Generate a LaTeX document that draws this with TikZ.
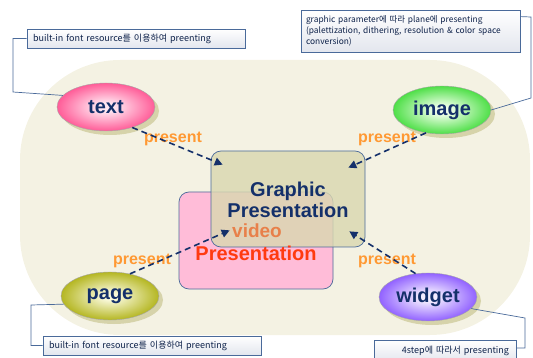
\documentclass[tikz,border=0pt]{standalone}
\usepackage{fontspec}
\setmainfont{Liberation Sans}
\newfontfamily\kr{Noto Sans CJK KR}
\usetikzlibrary{arrows.meta,calc,shapes.geometric}
\definecolor{bgc}{HTML}{F4F2E3}
\definecolor{shc}{HTML}{D6D3AA}
\definecolor{navy}{HTML}{14306A}
\definecolor{orng}{HTML}{FF9933}
\definecolor{vidc}{HTML}{E8804A}
\definecolor{redc}{HTML}{FF3A10}
\definecolor{leadc}{HTML}{4A6A9A}
\definecolor{gpfill}{HTML}{DAD8B0}
\definecolor{pkfill}{HTML}{FFBCD8}
\definecolor{pkout}{HTML}{FF4F8F}
\definecolor{pkin}{HTML}{FFE8F2}
\definecolor{grout}{HTML}{3FDC38}
\definecolor{grin}{HTML}{F0FFEA}
\definecolor{ylout}{HTML}{AEB010}
\definecolor{ylin}{HTML}{F8F8D8}
\definecolor{puout}{HTML}{8855FF}
\definecolor{puin}{HTML}{F4EEFF}
\definecolor{boxb}{HTML}{E3E6EE}
\pgfdeclareradialshading{glowpink}{\pgfpoint{0bp}{0bp}}{color(0bp)=(pkin); color(4bp)=(pkin); color(27bp)=(pkout); color(50bp)=(pkout)}
\pgfdeclareradialshading{glowgreen}{\pgfpoint{0bp}{0bp}}{color(0bp)=(grin); color(4bp)=(grin); color(27bp)=(grout); color(50bp)=(grout)}
\pgfdeclareradialshading{glowyellow}{\pgfpoint{0bp}{0bp}}{color(0bp)=(ylin); color(4bp)=(ylin); color(27bp)=(ylout); color(50bp)=(ylout)}
\pgfdeclareradialshading{glowpurple}{\pgfpoint{0bp}{0bp}}{color(0bp)=(puin); color(4bp)=(puin); color(27bp)=(puout); color(50bp)=(puout)}
\tikzset{
  ell/.style={ellipse, minimum width=98pt, minimum height=48pt, inner sep=0pt,
    draw=black!35, line width=0.4pt, text=navy,
    font=\bfseries\fontsize{20}{24}\selectfont},
  ellsh/.style={ellipse, minimum width=98pt, minimum height=48pt, inner sep=0pt, fill=shc},
  presentlbl/.style={text=orng, font=\bfseries\fontsize{16}{19}\selectfont, inner sep=0pt},
  arr/.style={draw=navy, line width=1.6pt, dash pattern=on 6pt off 4pt,
    -{Triangle[length=8pt,width=8pt]}},
  lead/.style={draw=leadc, line width=0.7pt},
  callout/.style={draw=leadc, line width=0.8pt, top color=white, bottom color=boxb,
    font=\kr\fontsize{9}{11.3}\selectfont, text=navy!70!black, inner xsep=6pt, inner ysep=3pt},
}
\begin{document}
\begin{tikzpicture}[x=1pt,y=-1pt]
\useasboundingbox (0,0) rectangle (533,358);
% background
\fill[bgc, rounded corners=100pt] (20,60) rectangle (530,335);
% presentation boxes
\node[draw=leadc, line width=0.7pt, fill=pkfill, rounded corners=10pt,
  minimum width=154pt, minimum height=97pt, inner sep=0pt] (vp) at (256,240.5) {};
\node[draw=leadc, line width=0.7pt, fill=gpfill, fill opacity=0.82, rounded corners=10pt,
  minimum width=154pt, minimum height=96pt, inner sep=0pt] (gp) at (288,199) {};
\node[text=navy, font=\bfseries\fontsize{20}{24}\selectfont, align=center, inner sep=0pt] (gpt) at (288,200) {Graphic\\[-3pt]Presentation};
\node[text=vidc, font=\bfseries\fontsize{19}{22}\selectfont, inner sep=0pt] (vt) at (257,231) {video};
\node[text=redc, font=\bfseries\fontsize{20}{24}\selectfont, inner sep=0pt] (vpt) at (256,253) {Presentation};
% shadows
\node[ellsh] (textsh) at (110,111) {};
\node[ellsh] (imagesh) at (446,114) {};
\node[ellsh] (pagesh) at (114,300) {};
\node[ellsh] (widgetsh) at (432,301) {};
% ellipses
\node[ell, shading=glowpink] (text) at (106,107) {text};
\node[ell, shading=glowgreen] (image) at (442,110) {image};
\node[ell, shading=glowyellow] (page) at (110,296) {page};
\node[ell, shading=glowpurple] (widget) at (428,297) {widget};
% present labels
\node[presentlbl] (p1) at (173,139) {present};
\node[presentlbl] (p2) at (387,139) {present};
\node[presentlbl] (p3) at (142,261) {present};
\node[presentlbl] (p4) at (387,261) {present};
% arrows
\coordinate (t1) at ($(gp.north west)+(12,14)$);
\coordinate (t2) at ($(gp.north east)+(-17,17)$);
\coordinate (t3) at ($(gp.south west)+(19,-17)$);
\coordinate (t4) at ($(gp.south east)+(-16,-16)$);
\draw[arr] (text.-38) -- (t1);
\draw[arr] (image.-125) -- (t2);
\draw[arr] (page.48) -- (t3);
\draw[arr] (widget.118) -- (t4);
% callouts
\node[callout, minimum width=218pt, minimum height=19pt, text width=206pt, align=left] (c1) at (136,38.5) {built-in font resource를 이용하여 preenting};
\node[callout, minimum width=219pt, minimum height=42pt, text width=209pt, inner xsep=5pt, align=left, font=\kr\fontsize{8.4}{11.3}\selectfont] (c2) at (410.5,31) {graphic parameter에 따라 plane에 presenting\\(palettization, dithering, resolution \& color space\\conversion)};
\node[callout, minimum width=218pt, minimum height=19pt, text width=206pt, align=left] (c3) at (152,345.5) {built-in font resource를 이용하여 preenting};
\node[callout, minimum width=142pt, minimum height=22pt, text width=128pt, align=right] (c4) at (445,351) {4step에 따라서 presenting};
% leaders
\coordinate (l1a) at (13,38.5);
\coordinate (l1b) at (13,92);
\draw[lead] (c1.west) -- (l1a) -- (l1b) -- (text.165);
\coordinate (l2a) at (531,17);
\coordinate (l2b) at (531,98);
\draw[lead] ($(c2.north east)+(0,7)$) -- (l2a) -- (l2b) -- (image.east);
\coordinate (l3a) at (31,305);
\coordinate (l3b) at (31,345.5);
\draw[lead] (page.190) -- (l3a) -- (l3b) -- (c3.west);
\coordinate (l4a) at (525,318);
\coordinate (l4b) at (525,348);
\draw[lead] (widget.-15) -- (l4a) -- (l4b) -- ($(c4.east)+(0,-3)$);
\end{tikzpicture}
\end{document}
